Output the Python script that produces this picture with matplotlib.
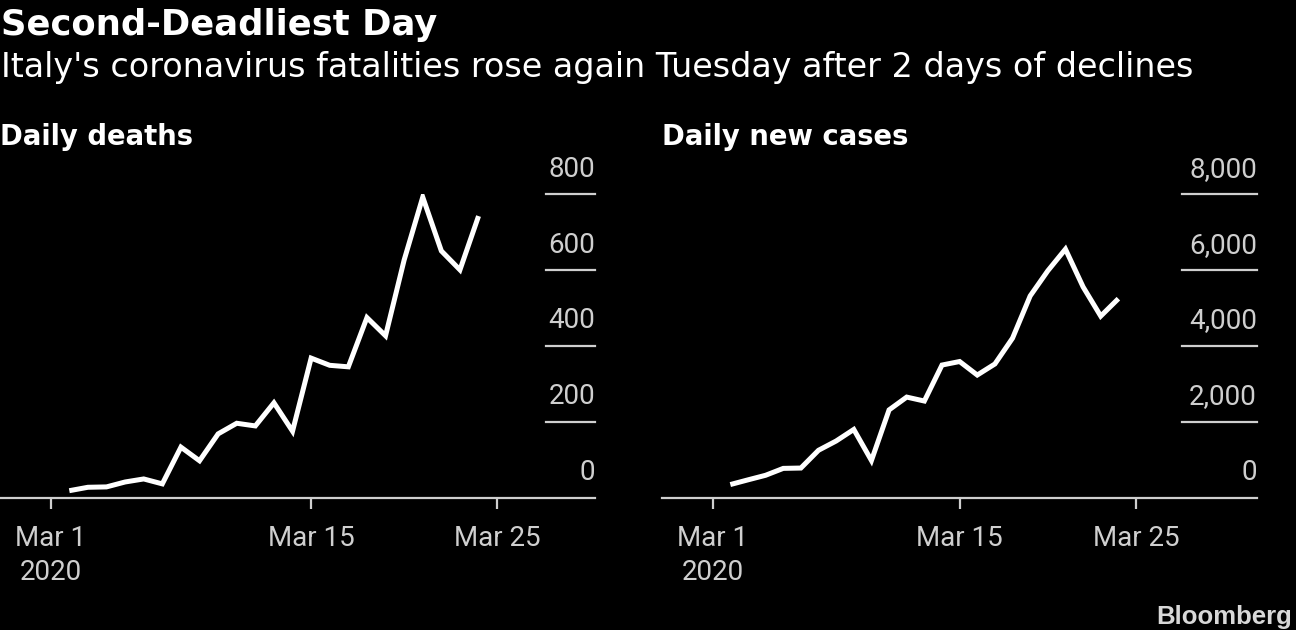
import matplotlib
matplotlib.use("Agg")
import matplotlib.pyplot as plt
import pandas as pd

# data (Italy, Mar 2 - Mar 24 2020)
dates = pd.date_range("2020-03-02", "2020-03-24", freq="D")
deaths = [18, 27, 28, 41, 49, 36, 133, 97, 168, 196, 189, 250, 175,
          368, 349, 345, 475, 427, 627, 793, 651, 601, 743]
cases = [342, 466, 587, 769, 778, 1247, 1492, 1797, 977, 2313, 2651, 2547,
         3497, 3590, 3233, 3526, 4207, 5322, 5986, 6557, 5560, 4789, 5249]

death_ticks = [0, 200, 400, 600, 800]
case_ticks = [0, 2000, 4000, 6000, 8000]
x_ticks = ["2020-03-01", "2020-03-15", "2020-03-25"]
x_labels = ["Mar 1\n2020", "Mar 15", "Mar 25"]

title = "Second-Deadliest Day"
subtitle = "Italy's coronavirus fatalities rose again Tuesday after 2 days of declines"

GREY = "#cfcfcf"
TICK_FONT = "Roboto"
HEAD_FONT = "DejaVu Sans"

fig = plt.figure(figsize=(12.96, 6.3), dpi=100, facecolor="black")


def panel(rect, values, yticks, fmt, xlim, grid_start, name):
    ax = fig.add_axes(rect)
    ax.set_facecolor("black")
    ax.plot(dates, values, color="white", lw=3.6, solid_joinstyle="miter",
            solid_capstyle="butt")
    ax.set_ylim(yticks[0], yticks[-1])
    start = pd.Timestamp("2020-03-01")
    ax.set_xlim(start + pd.Timedelta(days=xlim[0]), start + pd.Timedelta(days=xlim[1]))

    # spines / ticks
    for s in ["top", "right", "left"]:
        ax.spines[s].set_visible(False)
    ax.spines["bottom"].set_color(GREY)
    ax.spines["bottom"].set_linewidth(1.6)
    ax.set_yticks([])
    ax.set_xticks(pd.to_datetime(x_ticks))
    ax.set_xticklabels(x_labels, fontfamily=TICK_FONT, fontsize=20, color=GREY)
    for lab in ax.get_xticklabels():
        lab.set_linespacing(1.3)
    ax.tick_params(axis="x", length=8, width=1.6, color=GREY, pad=12)

    # short gridlines and labels sitting on them at the right
    for v in yticks:
        if v > yticks[0]:
            ax.axhline(v, grid_start, 1.0, color=GREY, lw=1.6, clip_on=False)
        ax.annotate(fmt.format(v), xy=(1.0, v), xycoords=ax.get_yaxis_transform(),
                    xytext=(0, 12.7), textcoords="offset points", ha="right",
                    va="baseline", fontfamily=TICK_FONT, fontsize=20, color=GREY,
                    annotation_clip=False)

    fig.text(rect[0], 1 - 145 / 630, name, fontfamily=HEAD_FONT, fontweight="bold",
             fontsize=19.8, color="white", va="baseline", ha="left")
    return ax


ax1 = panel([0.0, 0.2103, 595 / 1296, 0.481], deaths, death_ticks, "{:,}",
            (-2.726, 29.26), 0.9176, "Daily deaths")
ax2 = panel([662 / 1296, 0.2103, 595 / 1296, 0.481], cases, case_ticks, "{:,}",
            (-2.874, 30.86), 0.874, "Daily new cases")

fig.text(0.001, 1 - 35 / 630, title, fontfamily=HEAD_FONT, fontweight="bold",
         fontsize=25.5, color="white", va="baseline", ha="left")
fig.text(0.001, 1 - 77 / 630, subtitle, fontfamily=HEAD_FONT, fontsize=24,
         color="white", va="baseline", ha="left")
fig.text(0.997, 1 - 624 / 630, "Bloomberg", fontfamily="Liberation Sans",
         fontweight="bold", fontsize=18.5, color="#d8d8d8", va="baseline", ha="right")

fig.savefig("out.png", dpi=100, facecolor="black")
